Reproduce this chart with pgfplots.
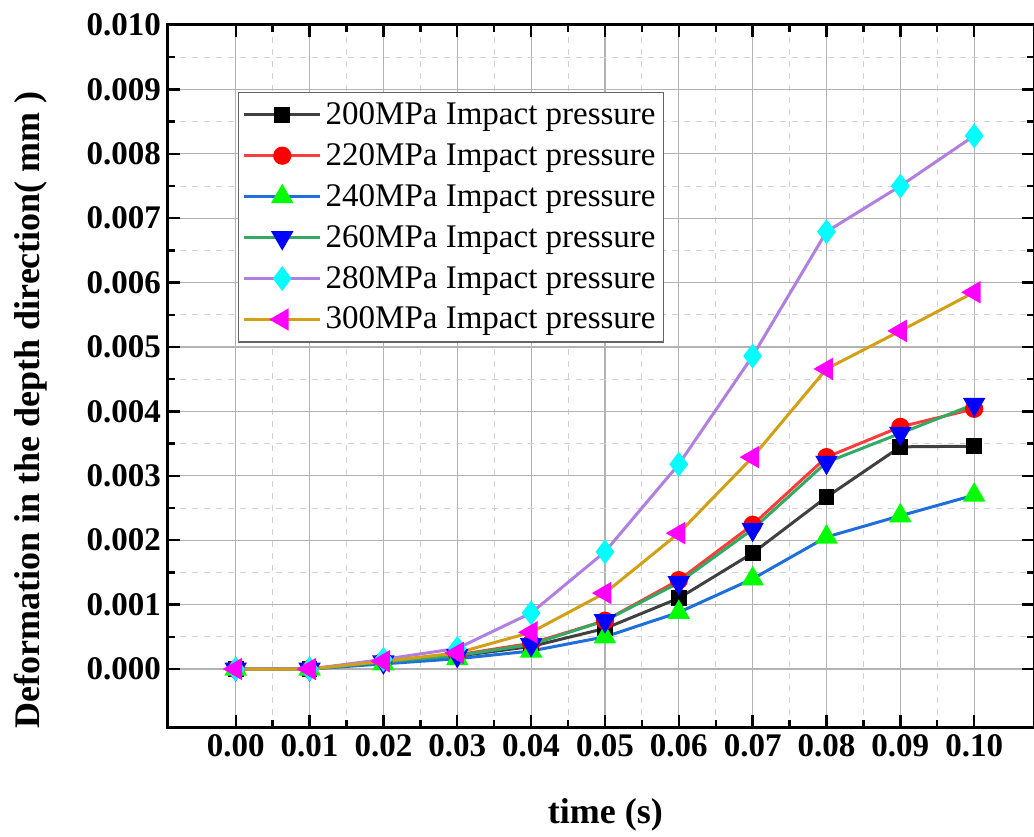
\documentclass[border=0pt]{standalone}
\usepackage{pgfplots}
\pgfplotsset{compat=1.18}
\usepackage{fontspec}
\setmainfont{Liberation Serif}

\definecolor{l200}{RGB}{64,64,64}
\definecolor{l220}{RGB}{255,60,60}
\definecolor{l240}{RGB}{30,110,220}
\definecolor{l260}{RGB}{50,170,100}
\definecolor{l280}{RGB}{176,127,224}
\definecolor{l300}{RGB}{210,160,20}
\definecolor{mcyan}{RGB}{0,255,255}
\definecolor{mmagenta}{RGB}{255,0,255}

\begin{document}
\begin{tikzpicture}
\begin{axis}[
    scale only axis,
    width=433pt, height=351pt,
    xmin=-0.00917, xmax=0.1081,
    ymin=-0.0009, ymax=0.010,
    xtick={0,0.01,0.02,0.03,0.04,0.05,0.06,0.07,0.08,0.09,0.10},
    ytick={0,0.001,0.002,0.003,0.004,0.005,0.006,0.007,0.008,0.009,0.010},
    minor x tick num=1, minor y tick num=1,
    scaled ticks=false,
    x tick label style={/pgf/number format/.cd, fixed, fixed zerofill, precision=2, assume math mode=true},
    y tick label style={/pgf/number format/.cd, fixed, fixed zerofill, precision=3, assume math mode=true},
    ticklabel style={font=\fontsize{16.5}{18}\selectfont\bfseries},
    tick align=inside,
    major tick length=6pt, minor tick length=3.5pt,
    every tick/.style={black, line width=1.2pt},
    axis line style={line width=1.5pt},
    grid=both,
    major grid style={gray!60, line width=0.6pt},
    minor grid style={gray!35, dashed, line width=0.5pt},
    xlabel={time (s)},
    ylabel={Deformation in the depth direction( mm )},
    label style={font=\fontsize{18}{20}\selectfont\bfseries},
    xlabel style={at={(axis description cs:0.505,-0.125)}, anchor=center},
    ylabel style={at={(axis description cs:-0.159,0.452)}, anchor=center},
    legend style={at={(axis description cs:0.081,0.905)}, anchor=north west,
        draw=gray!80!black, line width=0.6pt, fill=white,
        font=\fontsize{16.5}{18}\selectfont, row sep=4pt,
        inner xsep=2pt, inner ysep=3pt},
    legend cell align=left,
    legend image code/.code={
        \draw[#1, mark repeat=2, mark phase=2] plot coordinates {(0pt,0pt) (19pt,0pt) (38pt,0pt)};
    },
]
\addplot[l200, line width=1.5pt, mark=square*, mark size=3.2pt, mark options={fill=black, draw=black}] table {
x y
0.00 0.0
0.01 0.0
0.02 0.00010
0.03 0.00020
0.04 0.00035
0.05 0.00063
0.06 0.00110
0.07 0.00180
0.08 0.00267
0.09 0.00345
0.10 0.00346
};
\addlegendentry{200MPa Impact pressure}
\addplot[l220, line width=1.5pt, mark=*, mark size=3.8pt, mark options={fill=red, draw=red}] table {
x y
0.00 0.0
0.01 0.0
0.02 0.00012
0.03 0.00022
0.04 0.00040
0.05 0.00075
0.06 0.00138
0.07 0.00224
0.08 0.00329
0.09 0.00376
0.10 0.00404
};
\addlegendentry{220MPa Impact pressure}
\addplot[l240, line width=1.5pt, mark=triangle*, mark size=5pt, mark options={fill=green, draw=green}] table {
x y
0.00 0.0
0.01 0.0
0.02 0.00008
0.03 0.00016
0.04 0.00028
0.05 0.00050
0.06 0.00088
0.07 0.00140
0.08 0.00205
0.09 0.00238
0.10 0.00270
};
\addlegendentry{240MPa Impact pressure}
\addplot[l260, line width=1.5pt, mark=triangle*, mark size=5pt, mark options={fill=blue, draw=blue, rotate=180}] table {
x y
0.00 0.0
0.01 0.0
0.02 0.00011
0.03 0.00021
0.04 0.00038
0.05 0.00075
0.06 0.00134
0.07 0.00217
0.08 0.00321
0.09 0.00366
0.10 0.00411
};
\addlegendentry{260MPa Impact pressure}
\addplot[l280, line width=1.5pt, mark=diamond*, mark size=5pt, mark options={fill=mcyan, draw=mcyan}] table {
x y
0.00 0.0
0.01 0.0
0.02 0.00015
0.03 0.00032
0.04 0.00087
0.05 0.00182
0.06 0.00318
0.07 0.00486
0.08 0.00679
0.09 0.00750
0.10 0.00828
};
\addlegendentry{280MPa Impact pressure}
\addplot[l300, line width=1.5pt, mark=triangle*, mark size=5pt, mark options={fill=mmagenta, draw=mmagenta, rotate=90}] table {
x y
0.00 0.0
0.01 0.0
0.02 0.00012
0.03 0.00025
0.04 0.00057
0.05 0.00118
0.06 0.00211
0.07 0.00329
0.08 0.00466
0.09 0.00525
0.10 0.00585
};
\addlegendentry{300MPa Impact pressure}
\end{axis}
\pgfresetboundingbox
\path[use as bounding box] ([xshift=-84pt,yshift=-54.5pt]current axis.south west) rectangle ([yshift=12.5pt]current axis.north east);
\end{tikzpicture}
\end{document}
